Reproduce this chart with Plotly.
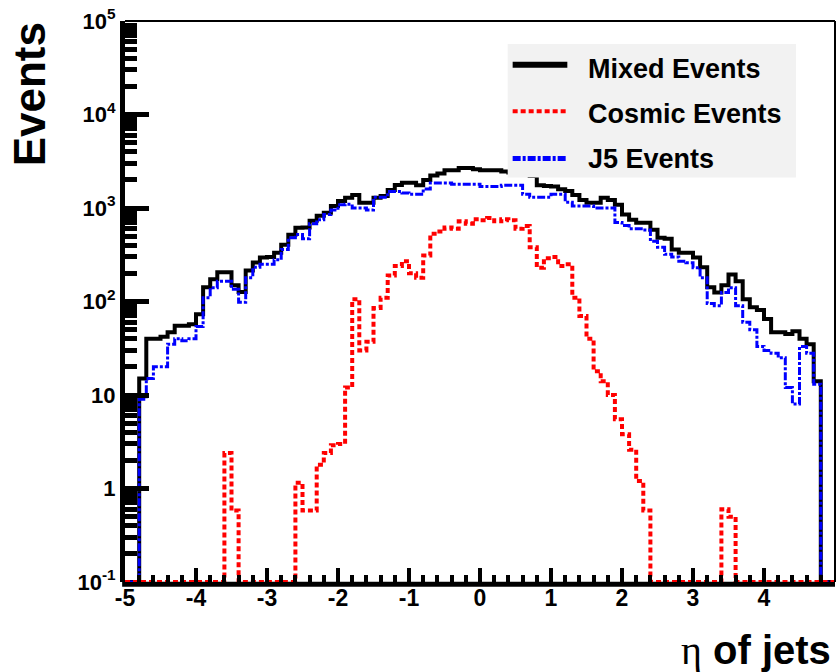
import plotly.graph_objects as go

# ---- data: 100 bins of width 0.1 from eta = -5 to 5 ----
bin_low_edges = [round(-5.0 + 0.1 * i, 1) for i in range(100)]
x_max = 5.0

mixed_events = [
    0, 0, 15, 40, 40, 42, 47, 55, 55, 57,
    73, 142, 173, 205, 205, 149, 126, 215, 262, 295,
    300, 333, 405, 519, 615, 620, 731, 826, 890, 1050,
    1190, 1290, 1380, 1135, 1135, 1290, 1340, 1560, 1760, 1860,
    1860, 1750, 1990, 2230, 2340, 2540, 2540, 2670, 2670, 2600,
    2540, 2540, 2540, 2450, 2400, 2300, 2250, 2200, 1750, 1720,
    1700, 1590, 1520, 1380, 1220, 1135, 1135, 1290, 1220, 1080,
    850, 750, 697, 697, 587, 482, 470, 360, 333, 333,
    295, 232, 142, 125, 149, 195, 165, 106, 87, 81,
    65, 47, 47, 45, 48, 40, 35, 14, 0, 0,
]

cosmic_events = [
    0, 0, 0, 0, 0, 0, 0, 0, 0, 0,
    0, 0, 0, 0, 2.4, 0.58, 0, 0, 0, 0,
    0, 0, 0, 0, 1.15, 0.58, 0.58, 1.8, 2.4, 2.9,
    3.0, 12, 106, 30, 37, 85, 110, 190, 240, 270,
    200, 180, 310, 530, 560, 620, 600, 720, 680, 760,
    740, 780, 720, 760, 740, 600, 640, 380, 230, 290,
    300, 240, 250, 110, 70, 40, 18, 14, 10, 5.5,
    3.8, 2.6, 1.2, 0.58, 0, 0, 0, 0, 0, 0,
    0, 0, 0, 0, 0.6, 0.5, 0, 0, 0, 0,
    0, 0, 0, 0, 0, 0, 0, 0, 0, 0,
]

j5_events = [
    0, 0, 9, 15, 20, 20, 35, 40, 38, 40,
    54, 110, 140, 165, 165, 135, 98, 180, 232, 250,
    250, 280, 360, 480, 520, 470, 680, 750, 850, 950,
    1080, 1100, 1000, 1000, 950, 1300, 1300, 1500, 1500, 1450,
    1400, 1400, 1600, 1850, 1850, 1850, 1800, 1800, 1800, 1800,
    1700, 1700, 1700, 1750, 1750, 1750, 1400, 1300, 1300, 1300,
    1400, 1400, 1150, 1050, 1050, 1050, 1000, 1000, 1000, 700,
    650, 600, 600, 580, 440, 380, 320, 300, 270, 260,
    230, 180, 95, 90, 125, 140, 90, 60, 50, 33,
    30, 28, 25, 12, 8, 33, 28, 13, 0, 0,
]

series_names = ["Mixed Events", "Cosmic Events", "J5 Events"]
y_tick_vals = [0.1, 1, 10, 100, 1000, 10000, 100000]
y_tick_text = ["10<sup>-1</sup>", "1", "10", "10<sup>2</sup>", "10<sup>3</sup>",
               "10<sup>4</sup>", "10<sup>5</sup>"]
x_tick_vals = [-5, -4, -3, -2, -1, 0, 1, 2, 3, 4, 5]
x_tick_text = ["-5", "-4", "-3", "-2", "-1", "0", "1", "2", "3", "4", "5"]

Y_FLOOR = 0.1  # empty bins are drawn on the bottom of the log axis (as ROOT does)

FONT = "Liberation Sans, Arial, sans-serif"


def step_xy(values):
    xs = list(bin_low_edges) + [x_max]
    ys = [max(v, Y_FLOOR) for v in values]
    ys = ys + [ys[-1]]
    return xs, ys


styles = {
    "Mixed Events": dict(color="black", width=4, dash="solid"),
    "Cosmic Events": dict(color="#ff0000", width=4, dash="5px,3px"),
    "J5 Events": dict(color="#0000ff", width=3, dash="8px,2px,3px,2px"),
}

fig = go.Figure()
for name, vals in [("Mixed Events", mixed_events), ("J5 Events", j5_events),
                   ("Cosmic Events", cosmic_events)]:
    xs, ys = step_xy(vals)
    fig.add_trace(go.Scatter(x=xs, y=ys, mode="lines", line_shape="hv",
                             line=styles[name], name=name, showlegend=False,
                             hoverinfo="skip"))

fig.update_layout(
    width=840, height=672,
    margin=dict(l=125, r=5, t=16, b=90),
    paper_bgcolor="white", plot_bgcolor="rgba(0,0,0,0)",
    showlegend=False,
)

fig.update_xaxes(
    range=[-5, 5], showgrid=False, zeroline=False,
    showline=False,
    ticks="inside", ticklen=14, tickwidth=4, tickcolor="black",
    tickvals=x_tick_vals, ticktext=x_tick_text,
    tickfont=dict(family=FONT, size=23, color="black", weight="bold"),
    minor=dict(ticks="inside", dtick=0.2, ticklen=7, tickwidth=4,
               tickcolor="black", showgrid=False),
)
fig.update_yaxes(
    type="log", range=[-1, 5], showgrid=False, zeroline=False,
    showline=True, linewidth=5, linecolor="black",
    ticks="inside", ticklen=24, tickwidth=5, tickcolor="black",
    tickvals=y_tick_vals, ticktext=y_tick_text,
    tickfont=dict(family=FONT, size=22, color="black", weight="bold"),
    minor=dict(ticks="inside", dtick="D1", ticklen=12, tickwidth=5,
               tickcolor="black", showgrid=False),
)

shapes = [
    # thick bottom axis line (drawn beneath the histograms)
    dict(type="line", xref="paper", yref="paper", x0=-0.004, x1=1, y0=-0.004,
         y1=-0.004, line=dict(color="black", width=5), layer="below"),
    # thin top and right frame
    dict(type="line", xref="paper", yref="paper", x0=0, x1=1, y0=1, y1=1,
         line=dict(color="black", width=2), layer="above"),
    dict(type="line", xref="paper", yref="paper", x0=1, x1=1, y0=0, y1=1,
         line=dict(color="black", width=2), layer="above"),
    # legend box
    dict(type="rect", xref="paper", yref="paper", x0=0.539, x1=0.945,
         y0=0.721, y1=0.959, fillcolor="#f2f2f2", line=dict(width=0),
         layer="above"),
]
legend_rows = [0.922, 0.839, 0.755]
text_rows = [0.915, 0.834, 0.754]
for name, ly in zip(series_names, legend_rows):
    st = styles[name]
    w = 6 if name == "Mixed Events" else (4 if name == "Cosmic Events" else 5)
    shapes.append(dict(type="line", xref="paper", yref="paper",
                       x0=0.546, x1=0.623, y0=ly, y1=ly, layer="above",
                       line=dict(color=st["color"], width=w, dash=st["dash"])))
fig.update_layout(shapes=shapes)

annotations = []
for name, ty in zip(series_names, text_rows):
    annotations.append(dict(text=name, xref="paper", yref="paper",
                            x=0.649, y=ty, xanchor="left", yanchor="middle",
                            showarrow=False,
                            font=dict(family=FONT, size=27, color="black",
                                      weight="bold")))
annotations.append(dict(text="Events", xref="paper", yref="paper",
                        x=-0.134, y=0.869, xanchor="center", yanchor="middle",
                        textangle=-90, showarrow=False,
                        font=dict(family=FONT, size=44, color="black",
                                  weight="bold")))
annotations.append(dict(
    text="<span style='font-family:Liberation Serif;font-weight:normal'>η</span> of jets",
    xref="paper", yref="paper", x=0.997, y=-0.122,
    xanchor="right", yanchor="middle", showarrow=False,
    font=dict(family=FONT, size=40, color="black", weight="bold")))
fig.update_layout(annotations=annotations)

fig.write_html("out.html")
